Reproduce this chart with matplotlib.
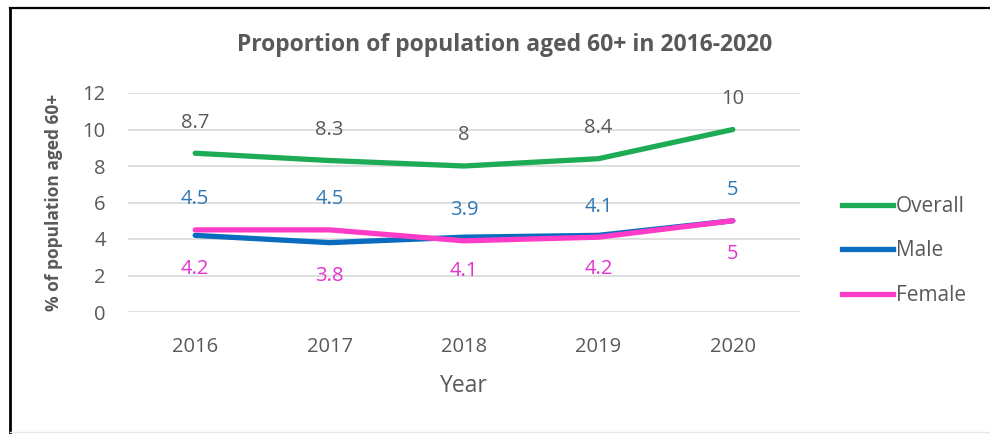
import matplotlib
matplotlib.use("Agg")
import matplotlib.pyplot as plt
from matplotlib.lines import Line2D

years = ["2016", "2017", "2018", "2019", "2020"]
overall = [8.7, 8.3, 8.0, 8.4, 10.0]
male = [4.2, 3.8, 4.1, 4.2, 5.0]
female = [4.5, 4.5, 3.9, 4.1, 5.0]
y_ticks = [0, 2, 4, 6, 8, 10, 12]

GREEN = "#1DAB55"
BLUE = "#0A6CBF"
PINK = "#FF3CC8"
BLUE_TXT = "#2E78B8"
PINK_TXT = "#E232D2"
GRAY = "#595959"
FONT = "Open Sans"

W, H = 990, 434
fig = plt.figure(figsize=(W / 100, H / 100), dpi=100)
ax = fig.add_axes([128 / W, 1 - 312 / H, 672 / W, 219 / H])

x = list(range(len(years)))
lw = 3.8
ax.plot(x, overall, color=GREEN, lw=lw, solid_capstyle="round", zorder=3)
ax.plot(x, male, color=BLUE, lw=lw, solid_capstyle="round", zorder=3)
ax.plot(x, female, color=PINK, lw=lw, solid_capstyle="round", zorder=4)

lbl = dict(ha="center", va="center", fontsize=14.5, family=FONT,
           textcoords="offset points")
for xi, v in zip(x, overall):
    ax.annotate(f"{v:g}", (xi, v), xytext=(0, 22), color=GRAY, **lbl)
for xi, v in zip(x, female):
    ax.annotate(f"{v:g}", (xi, v), xytext=(0, 22), color=BLUE_TXT, **lbl)
for xi, v in zip(x, male):
    ax.annotate(f"{v:g}", (xi, v), xytext=(0, -24), color=PINK_TXT, **lbl)

ax.set_xlim(-0.5, len(years) - 0.5)
ax.set_ylim(0, 12)
ax.set_yticks(y_ticks)
ax.set_xticks(x)
ax.set_xticklabels(years)
ax.grid(axis="y", color="#D9D9D9", lw=1.2)
ax.set_axisbelow(True)
for s in ax.spines.values():
    s.set_visible(False)
ax.tick_params(length=0, labelsize=14.5, labelcolor=GRAY)
ax.tick_params(axis="x", pad=18)
ax.tick_params(axis="y", pad=16)
for t in ax.get_xticklabels() + ax.get_yticklabels():
    t.set_family(FONT)

ax.set_xlabel("Year", fontsize=16.5, color=GRAY, family=FONT, labelpad=12)
ax.set_ylabel("% of population aged 60+", fontsize=12.5, color=GRAY,
              family=FONT, fontweight="bold", labelpad=14)

fig.text(505 / W, 1 - 45 / H, "Proportion of population aged 60+ in 2016-2020",
         ha="center", va="center", fontsize=16.5, fontweight="bold",
         color=GRAY, family=FONT)

handles = [Line2D([], [], color=c, lw=lw) for c in (GREEN, BLUE, PINK)]
leg = fig.legend(handles, ["Overall", "Male", "Female"],
                 loc="center left", bbox_to_anchor=(842 / W, 1 - 251 / H),
                 frameon=False, fontsize=15, handlelength=2.45,
                 handletextpad=0.12, labelspacing=1.12, borderaxespad=0,
                 borderpad=0)
for t in leg.get_texts():
    t.set_color(GRAY)
    t.set_family(FONT)

# page frame around the chart
fig.add_artist(Line2D([10 / W, 10 / W], [0, 1 - 8 / H], color="black",
                      lw=2, transform=fig.transFigure))
fig.add_artist(Line2D([10 / W, 1], [1 - 8 / H, 1 - 8 / H], color="black",
                      lw=1.6, transform=fig.transFigure))
fig.add_artist(Line2D([10 / W, 1], [1 - 432 / H, 1 - 432 / H], color="#E8E8E8",
                      lw=1, transform=fig.transFigure))

fig.savefig("out.png", dpi=100)
